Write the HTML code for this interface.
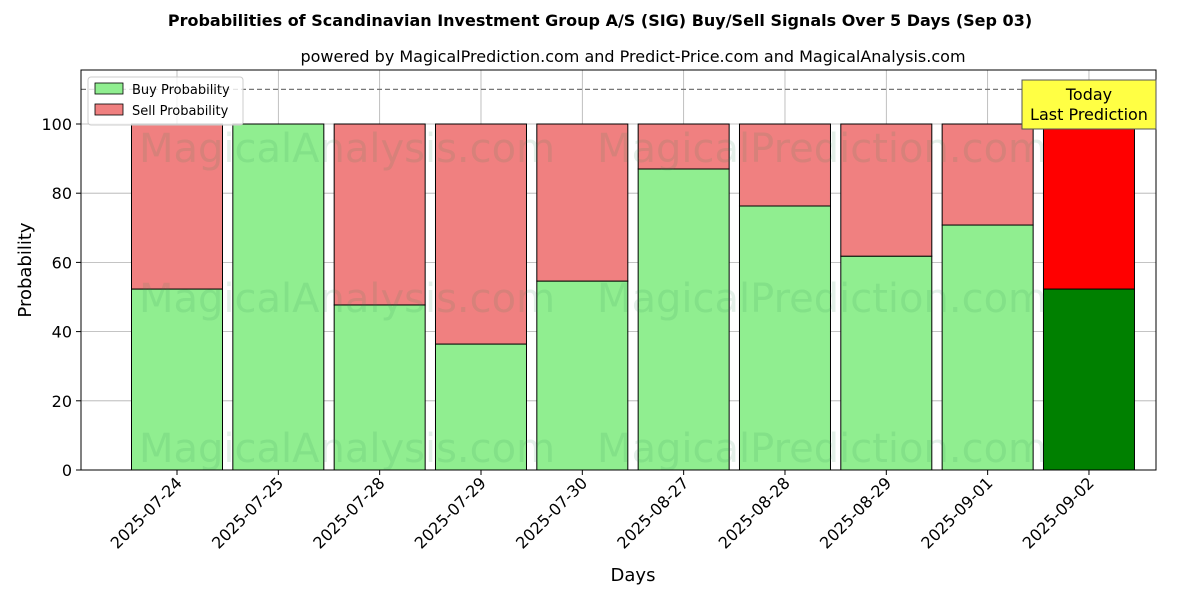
<!DOCTYPE html>
<html><head><meta charset="utf-8"><style>
body{margin:0;background:#fff;font-family:"Liberation Sans","DejaVu Sans",sans-serif}
</style></head><body>
<svg id="chart" width="1200" height="600" xmlns="http://www.w3.org/2000/svg" font-family="'DejaVu Sans','Liberation Sans',sans-serif">
<rect width="1200" height="600" fill="#fff"/>
<text x="600" y="26" text-anchor="middle" font-size="16" font-weight="bold">Probabilities of Scandinavian Investment Group A/S (SIG) Buy/Sell Signals Over 5 Days (Sep 03)</text>
<text x="633" y="62" text-anchor="middle" font-size="16">powered by MagicalPrediction.com and Predict-Price.com and MagicalAnalysis.com</text>
<g id="grid"></g>
<g id="bars"></g>
<g id="wm" font-size="40" fill="#2e8b57" fill-opacity="0.13">
<text x="347" y="162" text-anchor="middle">MagicalAnalysis.com</text>
<text x="822" y="162" text-anchor="middle">MagicalPrediction.com</text>
<text x="347" y="312" text-anchor="middle">MagicalAnalysis.com</text>
<text x="822" y="312" text-anchor="middle">MagicalPrediction.com</text>
<text x="347" y="462" text-anchor="middle">MagicalAnalysis.com</text>
<text x="822" y="462" text-anchor="middle">MagicalPrediction.com</text>
</g>
<line x1="81" x2="1156" y1="89.4" y2="89.4" stroke="#777" stroke-dasharray="5,3" stroke-width="1.2"/>
<rect x="81" y="70" width="1075" height="400" fill="none" stroke="#000" stroke-width="1"/>
<g id="axes"></g>
<text x="633" y="581" text-anchor="middle" font-size="18">Days</text>
<text transform="translate(31,270) rotate(-90)" text-anchor="middle" font-size="18">Probability</text>
<g>
<rect x="1022" y="80" width="134" height="49" fill="#ffff44" stroke="#555" stroke-width="1"/>
<text x="1089" y="100" text-anchor="middle" font-size="16">Today</text>
<text x="1089" y="120" text-anchor="middle" font-size="16">Last Prediction</text>
</g>
<g>
<rect x="88" y="77" width="155" height="48" fill="#fff" fill-opacity="0.8" stroke="#ccc" rx="3"/>
<rect x="95" y="83" width="28" height="11" fill="#90ee90" stroke="#000" stroke-width="0.8"/>
<text x="132" y="94" font-size="13">Buy Probability</text>
<rect x="95" y="104" width="28" height="11" fill="#f08080" stroke="#000" stroke-width="0.8"/>
<text x="132" y="115" font-size="13">Sell Probability</text>
</g>
</svg>
<script>
const categories=["2025-07-24","2025-07-25","2025-07-28","2025-07-29","2025-07-30","2025-08-27","2025-08-28","2025-08-29","2025-09-01","2025-09-02"];
const buyValues=[52.3,100,47.7,36.4,54.6,87,76.3,61.8,70.8,52.3];
const yTicks=[0,20,40,60,80,100];
const NS="http://www.w3.org/2000/svg";
const X0=81,X1=1156,Y0=470,Y1=70;
const xs=i=>177+i*101.33;
const ys=v=>Y0-v*3.46;
const bw=91;
function mk(t,a,p){const e=document.createElementNS(NS,t);for(const k in a)e.setAttribute(k,a[k]);p.appendChild(e);return e;}
const grid=document.getElementById('grid'),bars=document.getElementById('bars'),axes=document.getElementById('axes');
yTicks.forEach(v=>{
 const l=mk('line',{x1:X0,x2:X1,y1:ys(v),y2:ys(v),stroke:'#b0b0b0','stroke-width':0.8},grid);
 
 
 mk('line',{x1:X0-5,x2:X0,y1:ys(v),y2:ys(v),stroke:'#000'},axes);
 const t=mk('text',{x:X0-9,y:ys(v)+6,'text-anchor':'end','font-size':16},axes);t.textContent=v;
 
 
});
categories.forEach((c,i)=>{
 const x=xs(i);
 const g=mk('line',{x1:x,x2:x,y1:Y1,y2:Y0,stroke:'#b0b0b0','stroke-width':0.8},grid);
 
 
 const last=i===categories.length-1;
 const b=buyValues[i];
 const rb=mk('rect',{x:x-bw/2,y:ys(b),width:bw,height:ys(0)-ys(b),fill:last?'#008000':'#90ee90',stroke:'#000','stroke-width':1},bars);
 
 
 if(b<100){
  const rs=mk('rect',{x:x-bw/2,y:ys(100),width:bw,height:ys(b)-ys(100),fill:last?'#ff0000':'#f08080',stroke:'#000','stroke-width':1},bars);
  
  
 }
 mk('line',{x1:x,x2:x,y1:Y0,y2:Y0+5,stroke:'#000'},axes);
 const t=mk('text',{transform:`translate(${x+6},${Y0+14}) rotate(-45)`,'text-anchor':'end','font-size':16},axes);t.textContent=c;
 
 
});
</script>
</body></html>
